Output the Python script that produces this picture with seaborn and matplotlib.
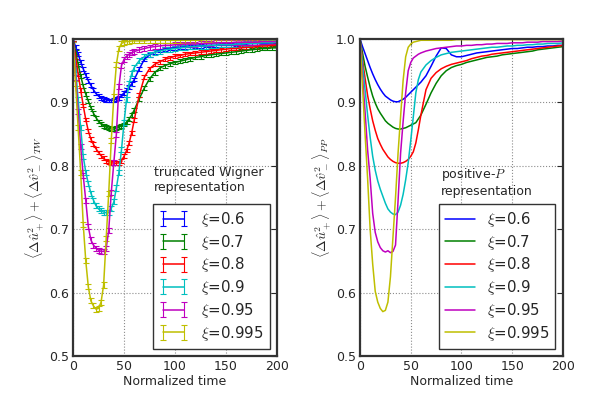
import matplotlib
matplotlib.use('Agg')
import pandas as pd
import seaborn as sns
import matplotlib.pyplot as plt

# normalized time (same grid for both panels)
time = [0, 2.5, 5, 7.5, 10, 12.5, 15, 17.5, 20, 22.5, 25, 27.5, 30, 32.5, 35, 37.5,
        40, 42.5, 45, 47.5, 50, 52.5, 55, 57.5, 60, 65, 70, 75, 80, 85, 90, 95, 100,
        105, 110, 115, 120, 125, 130, 135, 140, 145, 150, 155, 160, 165, 170, 175,
        180, 185, 190, 195, 200]

xi_labels = ['0.6', '0.7', '0.8', '0.9', '0.95', '0.995']
colors = ['#0000ff', '#008000', '#ff0000', '#00bfbf', '#bf00bf', '#bfbf00']

# truncated Wigner
tw_06 = [1.0, 0.988, 0.976, 0.964, 0.953, 0.943, 0.934, 0.927, 0.920, 0.914, 0.910, 0.907,
         0.905, 0.904, 0.903, 0.903, 0.904, 0.905, 0.907, 0.911, 0.915, 0.919, 0.924, 0.929,
         0.936, 0.953, 0.968, 0.975, 0.979, 0.982, 0.984, 0.985, 0.986, 0.987, 0.988, 0.988,
         0.989, 0.989, 0.990, 0.990, 0.990, 0.991, 0.991, 0.991, 0.992, 0.992, 0.992, 0.993,
         0.993, 0.993, 0.993, 0.994, 0.994]
tw_07 = [1.0, 0.980, 0.960, 0.942, 0.926, 0.913, 0.902, 0.892, 0.883, 0.876, 0.870, 0.866,
         0.863, 0.861, 0.859, 0.858, 0.858, 0.859, 0.861, 0.863, 0.865, 0.869, 0.874, 0.880,
         0.888, 0.906, 0.923, 0.937, 0.947, 0.954, 0.958, 0.961, 0.963, 0.965, 0.967, 0.969,
         0.971, 0.972, 0.974, 0.975, 0.976, 0.977, 0.978, 0.979, 0.980, 0.981, 0.982, 0.983,
         0.984, 0.985, 0.985, 0.986, 0.986]
tw_08 = [1.0, 0.972, 0.945, 0.920, 0.895, 0.873, 0.855, 0.842, 0.834, 0.827, 0.821, 0.816,
         0.812, 0.808, 0.806, 0.805, 0.804, 0.804, 0.805, 0.808, 0.815, 0.824, 0.836, 0.852,
         0.872, 0.912, 0.940, 0.953, 0.960, 0.964, 0.968, 0.970, 0.973, 0.974, 0.976, 0.977,
         0.978, 0.979, 0.980, 0.981, 0.982, 0.983, 0.984, 0.985, 0.985, 0.986, 0.987, 0.987,
         0.988, 0.989, 0.989, 0.990, 0.990]
tw_09 = [1.0, 0.952, 0.905, 0.860, 0.815, 0.790, 0.772, 0.757, 0.746, 0.737, 0.732, 0.729,
         0.727, 0.726, 0.726, 0.733, 0.743, 0.765, 0.790, 0.825, 0.868, 0.905, 0.930, 0.945,
         0.955, 0.966, 0.972, 0.976, 0.979, 0.981, 0.983, 0.984, 0.985, 0.986, 0.987, 0.988,
         0.988, 0.989, 0.989, 0.990, 0.990, 0.991, 0.991, 0.991, 0.992, 0.992, 0.993, 0.993,
         0.993, 0.994, 0.994, 0.994, 0.995]
tw_095 = [1.0, 0.940, 0.885, 0.830, 0.785, 0.745, 0.704, 0.683, 0.675, 0.670, 0.667, 0.665,
          0.665, 0.670, 0.698, 0.758, 0.805, 0.850, 0.925, 0.958, 0.968, 0.973, 0.976, 0.978,
          0.980, 0.983, 0.985, 0.987, 0.988, 0.989, 0.990, 0.990, 0.991, 0.991, 0.992, 0.992,
          0.992, 0.993, 0.993, 0.993, 0.994, 0.994, 0.994, 0.994, 0.995, 0.995, 0.995, 0.995,
          0.995, 0.996, 0.996, 0.996, 0.996]
tw_0995 = [1.0, 0.930, 0.860, 0.790, 0.708, 0.650, 0.609, 0.587, 0.579, 0.574, 0.575, 0.585,
           0.612, 0.685, 0.757, 0.840, 0.910, 0.960, 0.985, 0.993, 0.995, 0.996, 0.996, 0.997,
           0.997, 0.997, 0.997, 0.998, 0.998, 0.998, 0.998, 0.998, 0.998, 0.998, 0.998, 0.998,
           0.998, 0.998, 0.999, 0.999, 0.999, 0.999, 0.999, 0.999, 0.999, 0.999, 0.999, 0.999,
           0.999, 0.999, 0.999, 0.999, 0.999]
tw_err = [0.003, 0.003, 0.003, 0.004, 0.004, 0.004]

# positive-P
pp_06 = [1.0, 0.988, 0.977, 0.966, 0.955, 0.945, 0.936, 0.928, 0.921, 0.915, 0.910, 0.907,
         0.904, 0.902, 0.901, 0.901, 0.903, 0.905, 0.908, 0.912, 0.916, 0.920, 0.924, 0.928,
         0.932, 0.942, 0.957, 0.973, 0.986, 0.985, 0.975, 0.972, 0.972, 0.974, 0.976, 0.978,
         0.979, 0.980, 0.981, 0.982, 0.983, 0.984, 0.985, 0.985, 0.986, 0.987, 0.987, 0.988,
         0.988, 0.989, 0.989, 0.990, 0.990]
pp_07 = [1.0, 0.978, 0.957, 0.940, 0.924, 0.910, 0.899, 0.890, 0.883, 0.877, 0.871, 0.867,
         0.864, 0.861, 0.859, 0.858, 0.858, 0.859, 0.860, 0.862, 0.864, 0.866, 0.868, 0.874,
         0.880, 0.897, 0.915, 0.930, 0.942, 0.950, 0.955, 0.958, 0.960, 0.963, 0.965, 0.967,
         0.969, 0.971, 0.972, 0.973, 0.975, 0.976, 0.977, 0.978, 0.979, 0.980, 0.981, 0.983,
         0.984, 0.985, 0.986, 0.987, 0.988]
pp_08 = [1.0, 0.967, 0.938, 0.911, 0.890, 0.871, 0.856, 0.843, 0.834, 0.826, 0.820, 0.814,
         0.810, 0.807, 0.805, 0.804, 0.804, 0.805, 0.807, 0.810, 0.815, 0.822, 0.836, 0.857,
         0.880, 0.920, 0.938, 0.947, 0.953, 0.957, 0.960, 0.962, 0.964, 0.966, 0.969, 0.971,
         0.973, 0.974, 0.976, 0.977, 0.978, 0.979, 0.980, 0.981, 0.982, 0.983, 0.984, 0.985,
         0.986, 0.987, 0.988, 0.989, 0.990]
pp_09 = [1.0, 0.960, 0.920, 0.880, 0.845, 0.815, 0.793, 0.776, 0.763, 0.752, 0.741, 0.732,
         0.727, 0.724, 0.723, 0.727, 0.738, 0.755, 0.778, 0.805, 0.840, 0.877, 0.915, 0.936,
         0.948, 0.959, 0.966, 0.971, 0.975, 0.977, 0.979, 0.980, 0.981, 0.982, 0.983, 0.984,
         0.985, 0.986, 0.987, 0.987, 0.988, 0.989, 0.989, 0.990, 0.990, 0.991, 0.991, 0.992,
         0.992, 0.993, 0.993, 0.993, 0.994]
pp_095 = [1.0, 0.940, 0.885, 0.825, 0.780, 0.725, 0.695, 0.680, 0.671, 0.666, 0.664, 0.666,
          0.663, 0.665, 0.675, 0.745, 0.820, 0.870, 0.915, 0.950, 0.963, 0.970, 0.973, 0.976,
          0.978, 0.981, 0.983, 0.985, 0.986, 0.987, 0.988, 0.989, 0.989, 0.990, 0.990, 0.991,
          0.991, 0.992, 0.992, 0.993, 0.993, 0.993, 0.994, 0.994, 0.994, 0.995, 0.995, 0.995,
          0.996, 0.996, 0.996, 0.996, 0.997]
pp_0995 = [1.0, 0.924, 0.850, 0.780, 0.700, 0.645, 0.602, 0.585, 0.575, 0.570, 0.572, 0.585,
           0.625, 0.688, 0.750, 0.820, 0.878, 0.935, 0.972, 0.987, 0.992, 0.995, 0.996, 0.997,
           0.998, 0.998, 0.998, 0.998, 0.998, 0.998, 0.998, 0.999, 0.999, 0.999, 0.999, 0.999,
           0.999, 0.999, 0.999, 0.999, 0.999, 0.999, 0.999, 0.999, 0.999, 0.999, 0.999, 0.999,
           0.999, 0.999, 0.999, 0.999, 0.999]

tw_series = [tw_06, tw_07, tw_08, tw_09, tw_095, tw_0995]
pp_series = [pp_06, pp_07, pp_08, pp_09, pp_095, pp_0995]

sns.set_style('white')
plt.rcParams['font.family'] = ['DejaVu Sans']
plt.rcParams['mathtext.fontset'] = 'cm'
plt.rcParams['font.size'] = 9

fig = plt.figure(figsize=(6, 3.96), dpi=100)
ax1 = fig.add_axes([0.1217, 0.101, 0.34, 0.8005])
ax2 = fig.add_axes([0.6, 0.101, 0.3383, 0.8005])

# left: truncated Wigner with error bars
for vals, err, col, lab in zip(tw_series, tw_err, colors, xi_labels):
    ax1.errorbar(time, vals, yerr=err, color=col, lw=1.1, elinewidth=0.8,
                 capsize=2, capthick=0.8, label=r'$\xi$=' + lab)

# right: positive-P, long format for seaborn
pp_df = pd.DataFrame({
    't': time * len(pp_series),
    'val': [v for s in pp_series for v in s],
    'xi': [lab for lab in xi_labels for _ in time],
})
sns.lineplot(data=pp_df, x='t', y='val', hue='xi', hue_order=xi_labels,
             palette=colors, lw=1.1, legend=False, errorbar=None, ax=ax2)

ylab = r'$\langle\Delta\hat{u}_+^2\rangle+\langle\Delta\hat{v}_-^2\rangle_{%s}$'
for ax, tag in [(ax1, 'TW'), (ax2, 'PP')]:
    ax.set_xlim(0, 200)
    ax.set_ylim(0.5, 1.0)
    ax.set_xticks([0, 50, 100, 150, 200])
    ax.set_yticks([0.5, 0.6, 0.7, 0.8, 0.9, 1.0])
    ax.set_xlabel('Normalized time', fontsize=9, labelpad=1)
    ax.set_ylabel(ylab % tag, fontsize=10, labelpad=2)
    ax.grid(True, ls=':', color='0.55', lw=0.8)
    ax.tick_params(direction='in', top=True, right=True, length=4, width=0.8,
                   labelsize=9, pad=3)
    for sp in ax.spines.values():
        sp.set_color('0.2')
        sp.set_linewidth(1.6)

ax1.text(0.395, 0.6, 'truncated Wigner\nrepresentation', transform=ax1.transAxes,
         fontsize=9, va='top', ha='left')
ax2.text(0.4, 0.6, 'positive-$P$\nrepresentation', transform=ax2.transAxes,
         fontsize=9, va='top', ha='left')

leg_kw = dict(loc='lower right', fontsize=10.8, fancybox=False, framealpha=1,
              edgecolor='0.2', borderaxespad=0.5, labelspacing=0.25)
leg1 = ax1.legend(numpoints=2, **leg_kw)
leg2 = ax2.legend(ax2.lines[:6], [r'$\xi$=' + l for l in xi_labels], **leg_kw)
for leg in (leg1, leg2):
    leg.get_frame().set_linewidth(1.0)

fig.savefig('out.png', dpi=100)
